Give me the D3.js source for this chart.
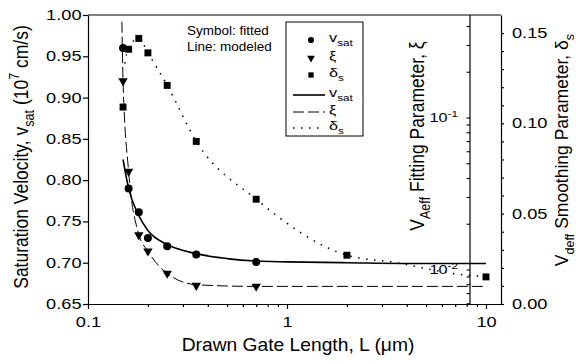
<!DOCTYPE html>
<html>
<head>
<meta charset="utf-8">
<script src="https://cdn.jsdelivr.net/npm/d3@7"></script>
<style>
  body { margin: 0; background: #fff; }
  text { font-family: "Liberation Sans", Arial, sans-serif; fill: #000; }
</style>
</head>
<body>
<div id="chart"></div>
<script>
// fitted values (symbols)
const fitL = [0.15, 0.16, 0.18, 0.2, 0.25, 0.35, 0.7];
const vsatFit = [0.960, 0.790, 0.761, 0.730, 0.720, 0.710, 0.701];
const xiFit = [0.175, 0.0445, 0.0170, 0.0133, 0.0095, 0.0079, 0.0078];
const dsL = [0.15, 0.16, 0.18, 0.2, 0.25, 0.35, 0.7, 2, 10];
const dsFit = [0.109, 0.141, 0.147, 0.139, 0.121, 0.090, 0.058, 0.027, 0.015];

// modeled values (lines)
const vsatModelL = [0.15, 0.16, 0.18, 0.2, 0.25, 0.35, 0.5, 0.7, 1, 2, 5, 10];
const vsatModel = [0.825, 0.790, 0.757, 0.739, 0.722, 0.711, 0.705, 0.702, 0.701, 0.700, 0.699, 0.699];
const xiModelL = [0.148, 0.15, 0.16, 0.18, 0.2, 0.25, 0.35, 0.7, 10];
const xiModel = [0.43, 0.175, 0.0445, 0.0172, 0.0133, 0.0095, 0.0080, 0.0078, 0.0078];
const dsModelL = [0.153, 0.16, 0.18, 0.2, 0.25, 0.35, 0.7, 2, 3.5, 7, 10];
const dsModel = [0.133, 0.142, 0.147, 0.139, 0.121, 0.090, 0.058, 0.027, 0.023, 0.0167, 0.015];

const leftTicks = [0.65, 0.70, 0.75, 0.80, 0.85, 0.90, 0.95, 1.00];
const rightTicks = [0, 0.05, 0.10, 0.15];

const W = 576, H = 364;
const pL = 88, pR = 501, pT = 15, pB = 304, xiAxisX = 470;
const SX = 1.3; // the original figure is stretched sideways

const svg = d3.select("#chart").append("svg")
  .attr("width", W).attr("height", H);

const x = d3.scaleLog().domain([0.1, 10]).range([pL, 486]);
x.domain([0.1, x.invert(pR)]).range([pL, pR]);
const y = d3.scaleLinear().domain([0.65, 1.00]).range([pB, pT]);
const yR = d3.scaleLinear().domain([0, 0.15]).range([pB, 33]);
yR.domain([0, yR.invert(pT)]).range([pB, pT]);
const yXi = d3.scaleLog().domain([0.01, 0.1]).range([270, 118]);
yXi.domain([yXi.invert(pB), yXi.invert(pT)]).range([pB, pT]);

// write text with sub/superscripts: parts = [[text, "n"|"sub"|"sup"], ...]
function rich(t, parts, size) {
  let shift = 0;
  parts.forEach(([s, k]) => {
    const target = k === "sub" ? size * 0.3 : k === "sup" ? -size * 0.4 : 0;
    t.append("tspan")
      .attr("dy", target - shift)
      .style("font-size", (k === "n" ? size : size * 0.72) + "px")
      .text(s);
    shift = target;
  });
}
// horizontal text stretched sideways by s
function stext(g, px, py, size, s) {
  return g.append("text").attr("x", px / s).attr("y", py)
    .attr("transform", `scale(${s},1)`).style("font-size", size + "px");
}
function stretchTicks(g, s) {
  g.selectAll(".tick text").each(function () {
    const t = d3.select(this);
    t.attr("x", (+t.attr("x") || 0) / s).attr("transform", `scale(${s},1)`);
  });
}

// frame top line
svg.append("line").attr("x1", pL).attr("x2", pR).attr("y1", pT).attr("y2", pT)
  .attr("stroke", "#000").attr("stroke-width", 1.2);

// left axis
svg.append("g")
  .attr("transform", `translate(${pL},0)`)
  .call(d3.axisLeft(y).tickValues(leftTicks).tickFormat(d3.format(".2f")).tickSize(5).tickSizeOuter(0).tickPadding(1.5))
  .call(g => g.selectAll("text").style("font-size", "14px").attr("font-family", null))
  .call(g => stretchTicks(g, SX))
  .call(g => g.selectAll("path,line").attr("stroke-width", 1.2));

// bottom axis
const xt = x.ticks();
svg.append("g")
  .attr("transform", `translate(0,${pB})`)
  .call(d3.axisBottom(x).tickValues(xt).tickSize(4).tickSizeOuter(0).tickPadding(9)
    .tickFormat(d => [0.1, 1, 10].includes(d) ? d3.format("")(d) : ""))
  .call(g => g.selectAll(".tick line").attr("y2", d => [0.1, 1, 10].includes(d) ? 5 : 3))
  .call(g => g.selectAll("text").style("font-size", "14px").attr("font-family", null))
  .call(g => stretchTicks(g, SX))
  .call(g => g.selectAll("path,line").attr("stroke-width", 1.2));

// right axis (delta_s)
svg.append("g")
  .attr("transform", `translate(${pR},0)`)
  .call(d3.axisRight(yR).tickValues(d3.range(0, 16).map(i => i / 100)).tickSize(3).tickSizeOuter(0).tickPadding(8)
    .tickFormat(d => rightTicks.some(v => Math.abs(v - d) < 1e-9) ? d3.format(".2f")(d) : ""))
  .call(g => g.selectAll("text").style("font-size", "14px").attr("font-family", null))
  .call(g => stretchTicks(g, SX))
  .call(g => g.selectAll("path,line").attr("stroke-width", 1.2));

// xi axis (log), ticks pointing left
const xiG = svg.append("g");
xiG.append("line").attr("x1", xiAxisX).attr("x2", xiAxisX).attr("y1", pT).attr("y2", pB)
  .attr("stroke", "#000").attr("stroke-width", 1.2);
xiG.selectAll("line.tk")
  .data(yXi.ticks().filter(d => yXi(d) >= pT && yXi(d) <= pB))
  .enter().append("line").attr("class", "tk")
  .attr("x1", xiAxisX - 3.5).attr("x2", xiAxisX)
  .attr("y1", d => yXi(d)).attr("y2", d => yXi(d))
  .attr("stroke", "#000").attr("stroke-width", 1.1);
[[0.1, "-1"], [0.01, "-2"]].forEach(([v, e]) => {
  const t = stext(xiG, 458, yXi(v) + 4.5, 12.5, SX).attr("text-anchor", "end");
  rich(t, [["10", "n"], [e, "sup"]], 12.5);
});

// axis titles
const tx = stext(svg, 298, 351, 18.5, 1.04).attr("text-anchor", "middle");
rich(tx, [["Drawn Gate Length, L (\u03bcm)", "n"]], 18.5);

const tl = svg.append("text").attr("transform", `translate(27.5,157) rotate(-90) scale(1,1.15)`)
  .attr("text-anchor", "middle").style("font-size", "17.5px");
rich(tl, [["Saturation Velocity, v", "n"], ["sat", "sub"], [" (10", "n"], ["7", "sup"], [" cm/s)", "n"]], 17.5);

const txi = svg.append("text").attr("transform", `translate(424,136) rotate(-90) scale(1,1.15)`)
  .attr("text-anchor", "middle").style("font-size", "17.5px");
rich(txi, [["V", "n"], ["Aeff", "sub"], [" Fitting Parameter, \u03be", "n"]], 17.5);

const tr = svg.append("text").attr("transform", `translate(568,150) rotate(-90) scale(1,1.05)`)
  .attr("text-anchor", "middle").style("font-size", "17.5px");
rich(tr, [["V", "n"], ["deff", "sub"], [" Smoothing Parameter, \u03b4", "n"], ["s", "sub"]], 17.5);

// modeled lines
const line = d3.line().curve(d3.curveMonotoneX);
svg.append("path")
  .attr("d", line(vsatModelL.map((L, i) => [x(L), y(vsatModel[i])])))
  .attr("fill", "none").attr("stroke", "#000").attr("stroke-width", 1.6);
svg.append("path")
  .attr("d", line(xiModelL.map((L, i) => [x(L), yXi(xiModel[i])])))
  .attr("fill", "none").attr("stroke", "#000").attr("stroke-width", 1)
  .attr("stroke-dasharray", "11,4");
svg.append("path")
  .attr("d", line(dsModelL.map((L, i) => [x(L), yR(dsModel[i])])))
  .attr("fill", "none").attr("stroke", "#000").attr("stroke-width", 1.5)
  .attr("stroke-dasharray", "1.5,6.5");

// fitted symbols
const sym = (type, size) => d3.symbol().type(type).size(size)();
svg.selectAll("path.vsat").data(fitL).enter().append("path").attr("class", "vsat")
  .attr("d", sym(d3.symbolCircle, 50))
  .attr("transform", (L, i) => `translate(${x(L)},${y(vsatFit[i])})`);
svg.selectAll("path.xi").data(fitL).enter().append("path").attr("class", "xi")
  .attr("d", sym(d3.symbolTriangle, 38))
  .attr("transform", (L, i) => `translate(${x(L)},${yXi(xiFit[i])}) rotate(180)`);
svg.selectAll("path.ds").data(dsL).enter().append("path").attr("class", "ds")
  .attr("d", sym(d3.symbolSquare, 48))
  .attr("transform", (L, i) => `translate(${x(L)},${yR(dsFit[i])})`);

// notes
stext(svg, 187, 35, 12.5, 1.08).text("Symbol: fitted");
stext(svg, 187, 51, 12.5, 1.08).text("Line: modeled");

// legend
const lg = svg.append("g");
lg.append("rect").attr("x", 286).attr("y", 22).attr("width", 77).attr("height", 114)
  .attr("fill", "#fff").attr("stroke", "#000").attr("stroke-width", 1);
const legRows = [
  { kind: "sym", type: d3.symbolCircle, rot: 0, size: 30, lab: [["v", "n"], ["sat", "sub"]] },
  { kind: "sym", type: d3.symbolTriangle, rot: 180, size: 26, lab: [["\u03be", "n"]] },
  { kind: "sym", type: d3.symbolSquare, rot: 0, size: 28, lab: [["\u03b4", "n"], ["s", "sub"]] },
  { kind: "line", dash: null, w: 1.6, lab: [["v", "n"], ["sat", "sub"]] },
  { kind: "line", dash: "11,4", w: 1, lab: [["\u03be", "n"]] },
  { kind: "line", dash: "1.5,6.5", w: 1.5, lab: [["\u03b4", "n"], ["s", "sub"]] }
];
const rowY = [40, 58, 75, 95, 112, 128];
legRows.forEach((r, i) => {
  const yy = rowY[i];
  if (r.kind === "sym") {
    lg.append("path").attr("d", sym(r.type, r.size))
      .attr("transform", `translate(311,${yy}) rotate(${r.rot})`);
  } else {
    lg.append("line").attr("x1", 293).attr("x2", 325).attr("y1", yy).attr("y2", yy)
      .attr("stroke", "#000").attr("stroke-width", r.w)
      .attr("stroke-dasharray", r.dash);
  }
  const t = stext(lg, 329, yy + 2, 13, 1.25);
  rich(t, r.lab, 13);
});
</script>
</body>
</html>
